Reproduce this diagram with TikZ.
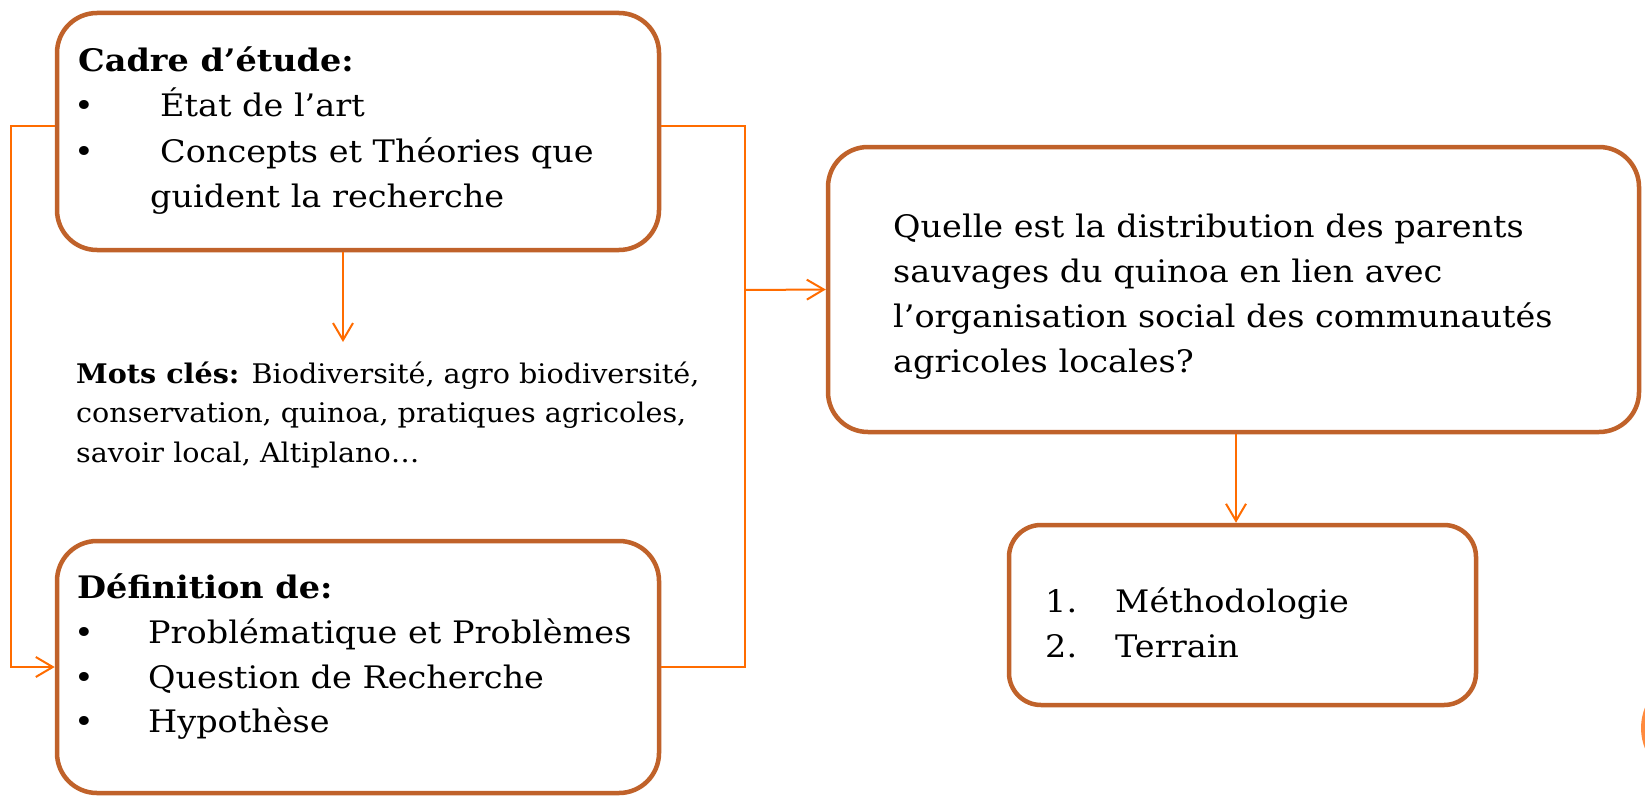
\documentclass[tikz,border=0pt]{standalone}
\usepackage{fontspec}
\setmainfont{DejaVu Serif}[FakeStretch=1.08]
\newfontfamily\motsfont{DejaVu Serif}[FakeStretch=1.06]
\usetikzlibrary{arrows.meta,calc}
\definecolor{boxc}{RGB}{192,98,42}
\definecolor{linec}{RGB}{255,108,0}
\definecolor{pagec}{RGB}{255,138,61}
\tikzset{
  box/.style={draw=boxc, line width=4.5pt, rounded corners=40pt, rectangle, inner sep=0pt, fill=white},
  conn/.style={draw=linec, line width=2pt},
  tip/.style={-{Straight Barb[length=17pt,width=20pt]}},
  big/.style={anchor=base west, inner sep=0pt, font=\fontsize{31}{45}\selectfont},
  bold/.style={anchor=base west, inner sep=0pt, font=\fontsize{31}{45}\selectfont\bfseries},
  small/.style={anchor=base west, inner sep=0pt, font=\motsfont\fontsize{27}{39}\selectfont},
}
\begin{document}
\begin{tikzpicture}[x=1pt,y=-1pt]
\useasboundingbox (0,0) rectangle (1645,797);
\fill[white] (0,0) rectangle (1645,797);
\begin{scope}
  \clip (0,0) rectangle (1645,797);
  \fill[pagec] (1696,728) circle[radius=55];
\end{scope}
% boxes
\node[box, minimum width=602pt, minimum height=237pt] (b1) at (358,131.5) {};
\node[box, minimum width=602pt, minimum height=252pt] (b2) at (358,667) {};
\node[box, minimum width=811pt, minimum height=285pt] (b3) at (1233.5,289.5) {};
\node[box, minimum width=467pt, minimum height=180pt, rounded corners=32pt] (b4) at (1242.5,615) {};
% connector coordinates
\coordinate (lt) at (11,126);
\coordinate (rt) at (745,126);
\coordinate (rj) at (745,290);
\coordinate (kw) at (343,342);
\coordinate (ax) at (1236,0);
\draw[conn,tip] (b1.west |- lt) -- (lt) |- (b2.west);
\draw[conn] (b1.east |- rt) -- (rt) |- (b2.east);
\draw[conn,tip] (rj) -- (b3.west);
\draw[conn,tip] (b1.south -| kw) -- (kw);
\draw[conn,tip] (b3.south -| ax) -- (b4.north -| ax);
% box 1 text
\node[bold] (t0) at (78,72) {Cadre d’étude:};
\node[big] (u1) at (74,117) {•};
\node[big] (t1) at (160,117) {État de l’art};
\node[big] (u2) at (74,162) {•};
\node[big] (t2) at (160,162) {Concepts et Théories que};
\node[big] (t3) at (150,207) {guident la recherche};
% keywords
\node[small] (m1) at (76,383) {\textbf{Mots clés:} Biodiversité, agro biodiversité,};
\node[small] (m2) at (76,422.5) {conservation, quinoa, pratiques agricoles,};
\node[small] (m3) at (76,462) {savoir local, Altiplano…};
% box 2 text
\node[bold] (d0) at (77,598) {Définition de:};
\node[big] (v1) at (74,643) {•};
\node[big] (d1) at (148,643) {Problématique et Problèmes};
\node[big] (v2) at (74,688) {•};
\node[big] (d2) at (148,688) {Question de Recherche};
\node[big] (v3) at (74,732) {•};
\node[big] (d3) at (148,732) {Hypothèse};
% box 3 text
\node[big] (q1) at (893,237) {Quelle est la distribution des parents};
\node[big] (q2) at (893,282) {sauvages du quinoa en lien avec};
\node[big] (q3) at (893,327) {l’organisation social des communautés};
\node[big] (q4) at (893,372) {agricoles locales?};
% box 4 text
\node[big] (n1) at (1045,612) {1.};
\node[big] (s1) at (1115,612) {Méthodologie};
\node[big] (n2) at (1045,657) {2.};
\node[big] (s2) at (1115,657) {Terrain};
\end{tikzpicture}
\end{document}
